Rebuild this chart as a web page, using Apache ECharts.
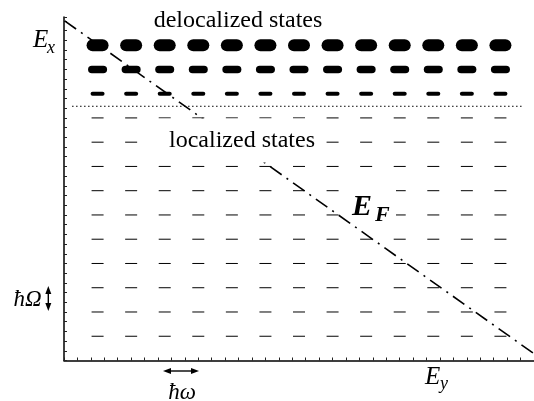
<!DOCTYPE html>
<html>
<head>
<meta charset="utf-8">
<script src="https://cdn.jsdelivr.net/npm/echarts@6/dist/echarts.min.js"></script>
<style>
  html, body { margin: 0; padding: 0; background: #fff; }
  #chart { width: 534px; height: 401px; }
</style>
</head>
<body>
<div id="chart"></div>
<script>
// Energy-level lattice: E_y along x (steps of ħω), E_x along y (steps of ħΩ)
const stateColumns = [2.5, 5, 7.5, 10, 12.5, 15, 17.5, 20, 22.5, 25, 27.5, 30, 32.5];
const delocalizedLevels = [32.5, 30, 27.5];
const localizedLevels = [25, 22.5, 20, 17.5, 15, 12.5, 10, 7.5, 5, 2.5];
// mobility edge separating delocalized from localized states
const mobilityEdge = 26.2;
const mobilityEdgeSpan = [0.6, 34.1];
// Fermi level E_F running across the lattice
const fermiLine = [[0.05, 35.0], [35, 0.7]];
// texts
const regionLabels = ['delocalized states', 'localized states'];
const axisNames = { x: ['E', 'y'], y: ['E', 'x'], fermi: ['E', 'F'] };
const quantumLabels = ['ħω', 'ħΩ'];

const SERIF = '"Liberation Serif", "Times New Roman", serif';

// mark sizes per delocalized level (top level is the broadest)
const deloShape = [
  { w: 22, h: 12 },
  { w: 19, h: 7.5 },
  { w: 14, h: 4 }
];

const deloData = [];
delocalizedLevels.forEach((lvl, i) => {
  stateColumns.forEach(c => deloData.push([c, lvl, i]));
});
const locData = [];
localizedLevels.forEach(lvl => {
  stateColumns.forEach(c => locData.push([c, lvl]));
});

const chart = echarts.init(document.getElementById('chart'), null, { renderer: 'canvas' });

function txt(x, y, text, font, align, z) {
  return {
    type: 'text', z: z || 6,
    style: {
      x: x, y: y, text: text, font: font, fill: '#000',
      align: align || 'left', verticalAlign: 'middle'
    }
  };
}

const option = {
  animation: false,
  backgroundColor: '#fff',
  grid: { left: 64, top: 17, width: 475, height: 343.5 },
  xAxis: {
    type: 'value', min: 0, max: 35, interval: 1,
    axisLine: { show: true, lineStyle: { color: '#000', width: 1.5 } },
    axisTick: { show: true, inside: true, length: 3, lineStyle: { color: '#222', width: 1 } },
    axisLabel: { show: false },
    splitLine: { show: false }
  },
  yAxis: {
    type: 'value', min: 0, max: 35.4, interval: 1,
    axisLine: { show: true, lineStyle: { color: '#000', width: 1.5 } },
    axisTick: { show: true, inside: true, length: 3, lineStyle: { color: '#222', width: 1 } },
    axisLabel: { show: false },
    splitLine: { show: false }
  },
  series: [
    {
      type: 'custom', z: 1,
      data: deloData,
      renderItem: function (params, api) {
        const p = api.coord([api.value(0), api.value(1)]);
        const s = deloShape[api.value(2)];
        return {
          type: 'rect',
          shape: { x: p[0] - s.w / 2, y: p[1] - s.h / 2, width: s.w, height: s.h, r: s.h / 2 },
          style: { fill: '#000' }
        };
      }
    },
    {
      type: 'custom', z: 1,
      data: locData,
      renderItem: function (params, api) {
        const p = api.coord([api.value(0), api.value(1)]);
        return {
          type: 'rect',
          shape: { x: p[0] - 6, y: p[1] - 0.5, width: 12, height: 1 },
          style: { fill: '#000' }
        };
      }
    },
    {
      type: 'line', z: 3,
      data: [[mobilityEdgeSpan[0], mobilityEdge], [mobilityEdgeSpan[1], mobilityEdge]],
      showSymbol: false, symbol: 'none',
      lineStyle: { color: '#000', width: 1, type: [1.5, 2.5] }
    },
    {
      type: 'line', z: 3,
      data: fermiLine,
      showSymbol: false, symbol: 'none',
      lineStyle: { color: '#000', width: 1.6, type: [14, 6, 2, 6] }
    }
  ],
  graphic: [
    // backing boxes for labels placed over the lattice
    { type: 'rect', z: 2, shape: { x: 346, y: 186, width: 50, height: 42 }, style: { fill: '#fff' } },
    { type: 'rect', z: 5, shape: { x: 158, y: 118.5, width: 166, height: 44 }, style: { fill: '#fff' } },

    txt(238, 21, regionLabels[0], '24px ' + SERIF, 'center'),
    txt(242, 140.5, regionLabels[1], '24px ' + SERIF, 'center'),

    txt(33, 40, axisNames.y[0], 'italic 25px ' + SERIF),
    txt(47, 48, axisNames.y[1], 'italic 18px ' + SERIF),

    txt(425, 377.5, axisNames.x[0], 'italic 25px ' + SERIF),
    txt(440, 384, axisNames.x[1], 'italic 18px ' + SERIF),

    txt(352, 207, axisNames.fermi[0], 'bold italic 30px ' + SERIF),
    txt(375, 215.5, axisNames.fermi[1], 'bold italic 22px ' + SERIF),

    txt(182, 393, quantumLabels[0], 'italic 23px ' + SERIF, 'center'),
    txt(27.5, 300, quantumLabels[1], 'italic 23px ' + SERIF, 'center'),

    // ħω double arrow
    { type: 'line', z: 6, shape: { x1: 168, y1: 371, x2: 194, y2: 371 }, style: { stroke: '#000', lineWidth: 1.4 } },
    { type: 'polygon', z: 6, shape: { points: [[163, 371], [171, 368], [171, 374]] }, style: { fill: '#000' } },
    { type: 'polygon', z: 6, shape: { points: [[199, 371], [191, 368], [191, 374]] }, style: { fill: '#000' } },
    // ħΩ double arrow
    { type: 'line', z: 6, shape: { x1: 48.3, y1: 291, x2: 48.3, y2: 306 }, style: { stroke: '#000', lineWidth: 1.4 } },
    { type: 'polygon', z: 6, shape: { points: [[48.3, 286], [45.3, 294], [51.3, 294]] }, style: { fill: '#000' } },
    { type: 'polygon', z: 6, shape: { points: [[48.3, 311], [45.3, 303], [51.3, 303]] }, style: { fill: '#000' } }
  ]
};

chart.setOption(option);
</script>
</body>
</html>
